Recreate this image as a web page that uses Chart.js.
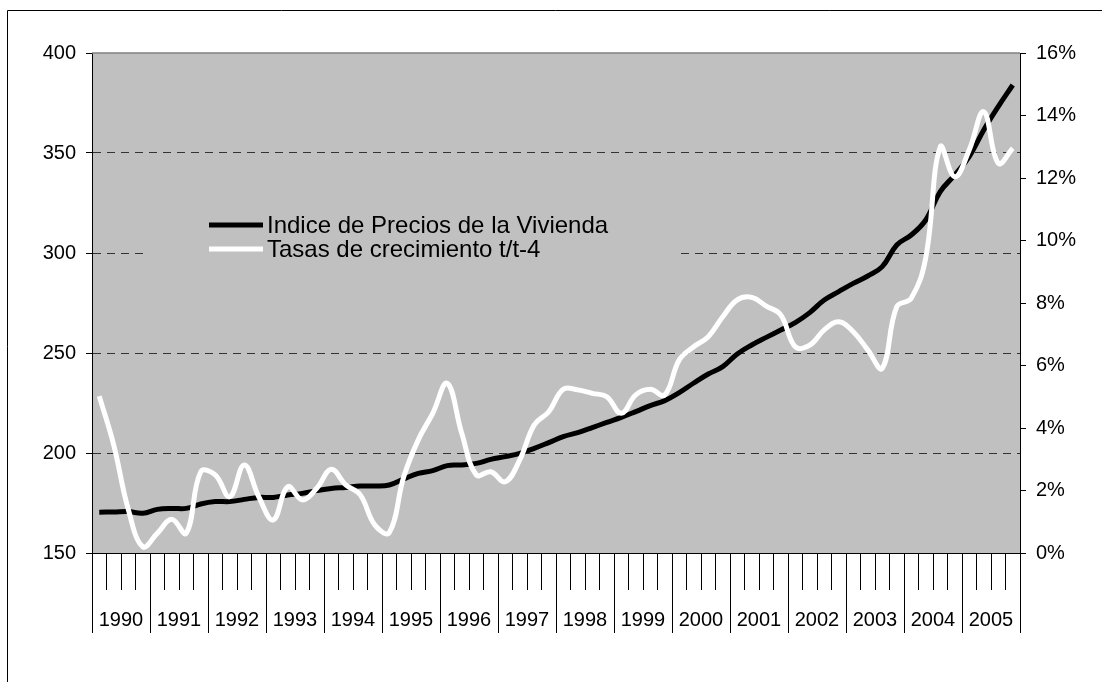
<!DOCTYPE html>
<html>
<head>
<meta charset="utf-8">
<script src="https://cdn.jsdelivr.net/npm/chart.js@4"></script>
<style>
html,body{margin:0;padding:0;background:#fff;}
#wrap{width:1102px;height:682px;position:relative;}
</style>
</head>
<body>
<div id="wrap"><canvas id="c" width="1102" height="682"></canvas></div>
<script>
const years = [1990,1991,1992,1993,1994,1995,1996,1997,1998,1999,2000,2001,2002,2003,2004,2005];
const quarters = ['T1','T2','T3','T4'];
const seriesNames = ['Indice de Precios de la Vivienda','Tasas de crecimiento t/t-4'];
const priceIndex = [
  170.4,170.5,170.7,169.9, 171.8,172.3,172.3,174.5, 175.7,175.7,176.8,177.8, 177.8,179.0,179.8,181.2,
  182.3,182.8,183.5,183.5, 184.0,187.0,189.8,191.2, 193.7,194.0,194.8,196.8, 198.2,199.8,202.3,205.2,
  208.2,210.2,212.7,215.3, 217.8,220.7,223.7,226.2, 230.2,235.0,239.5,243.2, 249.5,254.0,257.8,261.5,
  265.2,270.2,276.5,280.7, 284.8,288.5,293.2,304.0, 309.0,316.5,330.7,339.0, 348.2,361.5,373.2,384.0
];
const growthRate = [
  5.02,3.45,1.40,0.20, 0.63,1.08,0.63,2.60, 2.50,1.80,2.82,1.80, 1.06,2.12,1.70,2.07,
  2.68,2.18,1.86,0.90, 0.65,2.44,3.62,4.47, 5.43,3.83,2.50,2.60, 2.28,2.98,4.10,4.52,
  5.24,5.22,5.11,5.00, 4.47,5.06,5.24,5.06, 6.18,6.60,6.92,7.56, 8.10,8.18,7.90,7.62,
  6.60,6.65,7.14,7.40, 7.08,6.50,5.91,7.88, 8.15,9.45,13.00,12.04, 12.90,14.12,12.47,12.95
];
const leftTicks = [150,200,250,300,350,400];
const rightTicks = [0,2,4,6,8,10,12,14,16];

const categories = [];
years.forEach(y => quarters.forEach(q => categories.push(y + ' ' + q)));

const FONT = 'Liberation Sans, Arial, sans-serif';

const framePlugin = {
  id: 'frame',
  beforeDraw(chart) {
    const ctx = chart.ctx, a = chart.chartArea;
    ctx.save();
    ctx.fillStyle = '#fff';
    ctx.fillRect(0, 0, chart.width, chart.height);
    ctx.strokeStyle = '#000';
    ctx.lineWidth = 1;
    ctx.beginPath();
    ctx.moveTo(7.5, chart.height + 2);
    ctx.lineTo(7.5, 10.5);
    ctx.lineTo(chart.width + 2, 10.5);
    ctx.stroke();
    ctx.fillStyle = '#C0C0C0';
    ctx.fillRect(a.left, a.top, a.right - a.left, a.bottom - a.top);
    ctx.restore();
  },
  beforeDatasetsDraw(chart) {
    const ctx = chart.ctx, a = chart.chartArea;
    ctx.save();
    ctx.strokeStyle = '#808080';
    ctx.lineWidth = 1.5;
    ctx.beginPath();
    ctx.moveTo(a.left, a.top);
    ctx.lineTo(a.right, a.top);
    ctx.stroke();
    const xs = chart.scales.x;
    const n = categories.length;
    const w = (xs.right - xs.left) / n;
    ctx.strokeStyle = '#000';
    ctx.lineWidth = 1;
    ctx.beginPath();
    for (let i = 0; i <= n; i += 4) {
      const x = Math.round(xs.left + i * w) + 0.5;
      ctx.moveTo(x, a.bottom);
      ctx.lineTo(x, a.bottom + 80);
    }
    ctx.stroke();
    ctx.fillStyle = '#C0C0C0';
    ctx.fillRect(148, 205, 529, 80);
    const ds = chart.data.datasets;
    const rows = [225, 249];
    ds.forEach((d, k) => {
      ctx.strokeStyle = d.borderColor;
      ctx.lineWidth = 5;
      ctx.beginPath();
      ctx.moveTo(209, rows[k]);
      ctx.lineTo(263, rows[k]);
      ctx.stroke();
      ctx.fillStyle = '#000';
      ctx.font = '24px ' + FONT;
      ctx.textBaseline = 'middle';
      ctx.textAlign = 'left';
      ctx.fillText(d.label, 267, rows[k] + 1);
    });
    ctx.restore();
  }
};

new Chart(document.getElementById('c'), {
  type: 'line',
  data: {
    labels: categories,
    datasets: [
      { label: seriesNames[0], data: priceIndex, yAxisID: 'y', borderColor: '#000000',
        borderWidth: 5, pointRadius: 0, tension: 0.4, order: 1, fill: false },
      { label: seriesNames[1], data: growthRate, yAxisID: 'y1', borderColor: '#FFFFFF',
        borderWidth: 5, pointRadius: 0, tension: 0.4, order: 0, fill: false }
    ]
  },
  plugins: [framePlugin],
  options: {
    responsive: false,
    animation: false,
    layout: { padding: { top: 53, left: 0, right: 0, bottom: 0 } },
    plugins: { legend: { display: false }, tooltip: { enabled: false } },
    scales: {
      x: {
        type: 'category',
        offset: true,
        afterFit(s) { s.height = 129; },
        grid: { offset: true, drawOnChartArea: false, drawTicks: true, tickLength: 37, color: '#000', lineWidth: 1 },
        border: { display: true, color: '#000', width: 1 },
        ticks: {
          autoSkip: false, maxRotation: 0, minRotation: 0, padding: 18,
          labelOffset: 7.24,
          color: '#000', font: { family: FONT, size: 20 },
          callback(v, i) { return i % 4 === 1 ? String(years[Math.floor(i / 4)]) : ''; }
        }
      },
      y: {
        position: 'left',
        min: leftTicks[0], max: leftTicks[leftTicks.length - 1],
        afterFit(s) { s.width = 92; },
        afterBuildTicks(s) { s.ticks = leftTicks.map(v => ({ value: v })); },
        grid: {
          drawOnChartArea: true, drawTicks: true, tickLength: 6,
          color(c) { const v = c.tick && c.tick.value; return (v === 150 || v === 400) ? 'rgba(0,0,0,0)' : '#333333'; },
          tickColor: '#000', tickBorderDash: [], lineWidth: 1
        },
        border: { display: true, color: '#000', width: 1, dash: [8, 6] },
        ticks: { padding: 10, color: '#000', font: { family: FONT, size: 20 } }
      },
      y1: {
        position: 'right',
        min: rightTicks[0], max: rightTicks[rightTicks.length - 1],
        afterFit(s) { s.width = 82; },
        afterBuildTicks(s) { s.ticks = rightTicks.map(v => ({ value: v })); },
        grid: { drawOnChartArea: false, drawTicks: true, tickLength: 6, color: '#000', tickColor: '#000' },
        border: { display: true, color: '#000', width: 1 },
        ticks: { padding: 10, color: '#000', font: { family: FONT, size: 20 },
          callback(v) { return v + '%'; } }
      }
    }
  }
});
</script>
</body>
</html>
